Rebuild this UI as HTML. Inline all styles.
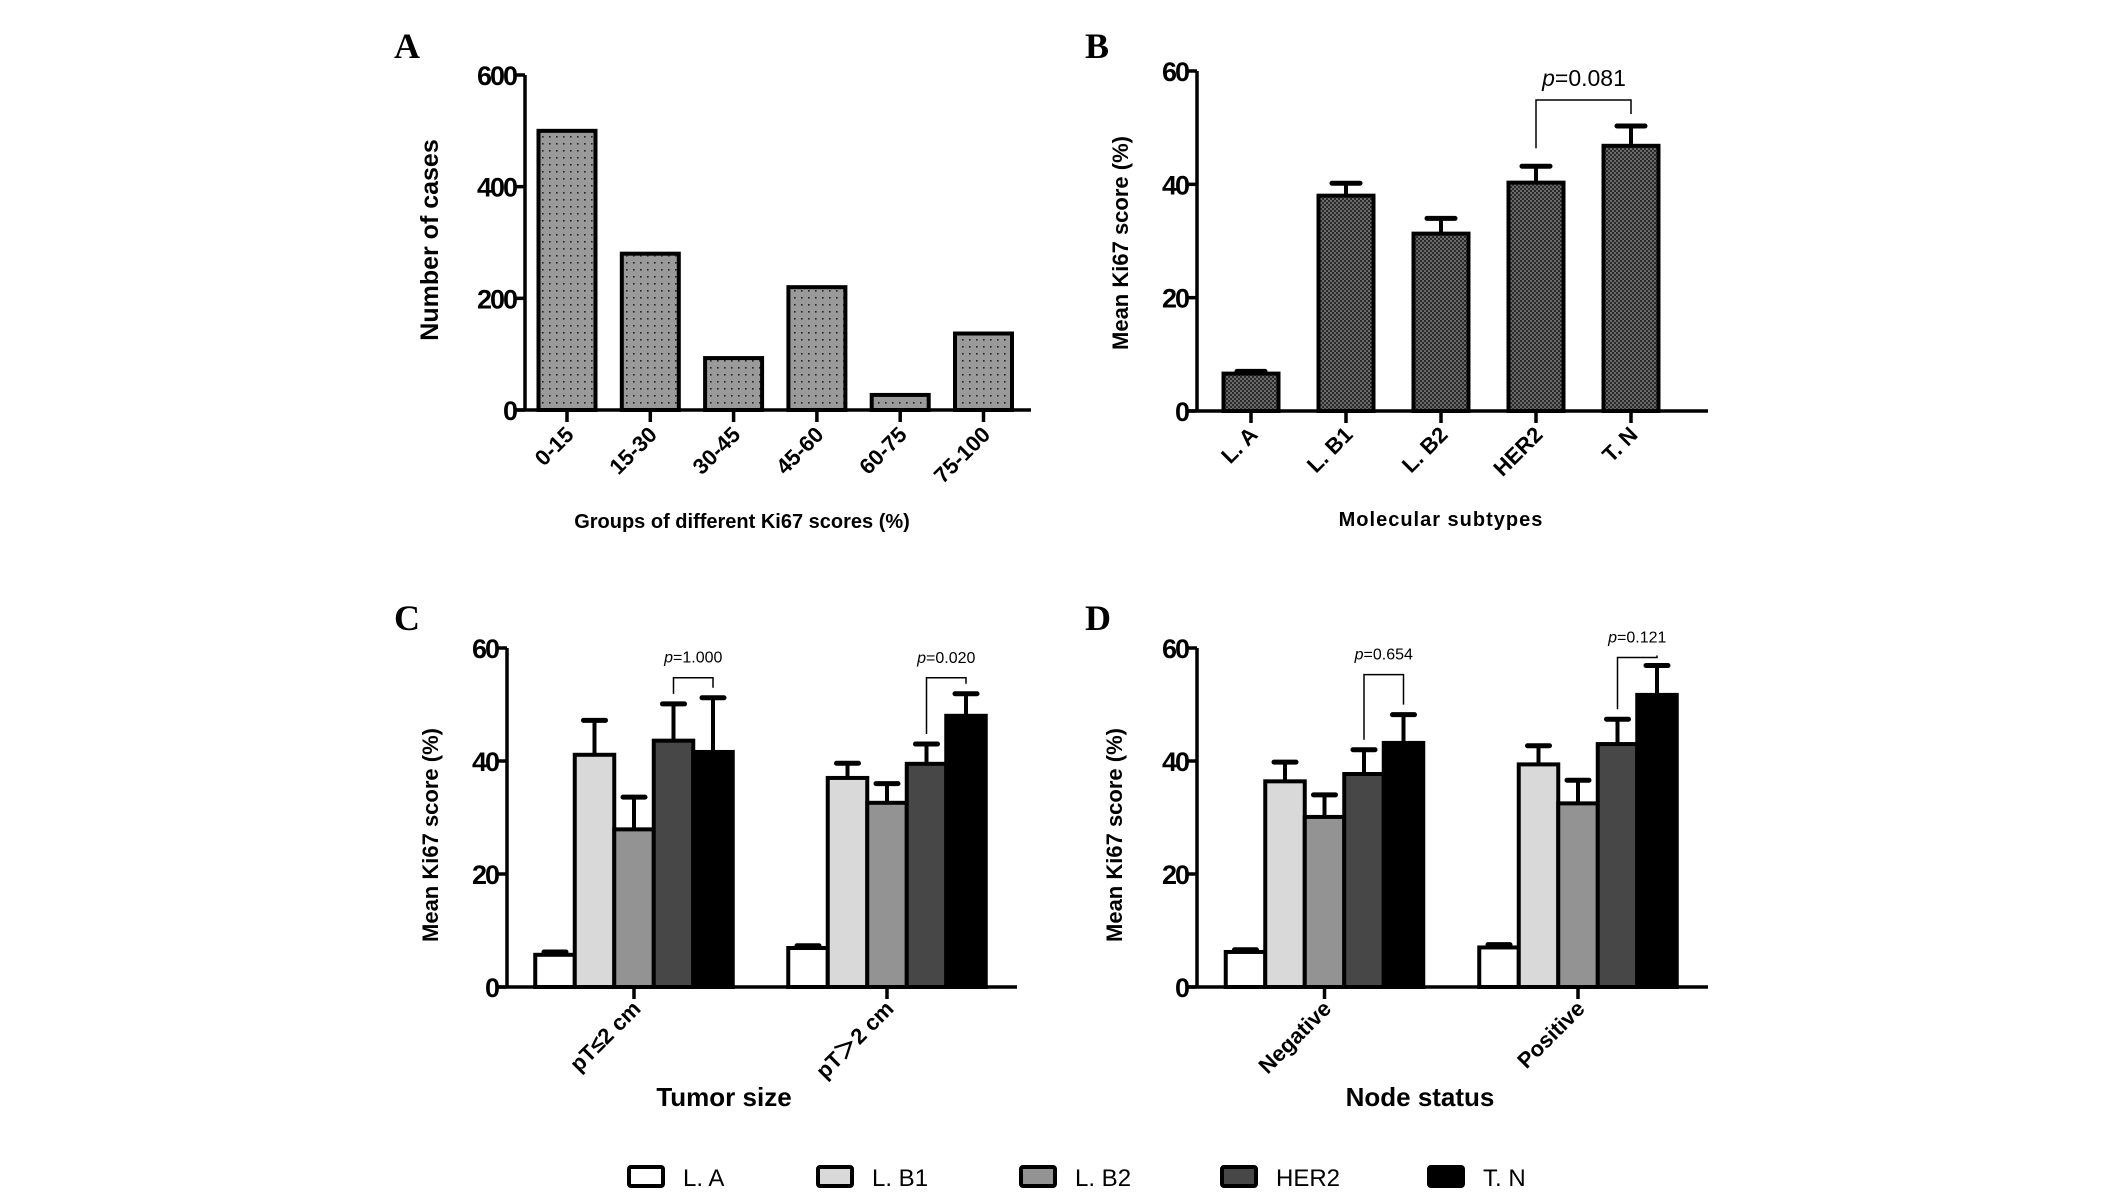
<!DOCTYPE html>
<html><head><meta charset="utf-8"><style>
html,body{margin:0;padding:0;background:#fff;}
svg{display:block;font-family:"Liberation Sans",Arial,sans-serif;}
</style></head><body>
<svg id="fig" width="2126" height="1192" viewBox="0 0 2126 1192" xmlns="http://www.w3.org/2000/svg">
<defs>
<pattern id="dots" width="7" height="7" patternUnits="userSpaceOnUse"><rect width="7" height="7" fill="#9a9a9a"/><rect x="3" y="3" width="1.6" height="1.6" fill="#222"/></pattern>
<pattern id="check" width="4" height="4" patternUnits="userSpaceOnUse"><rect width="4" height="4" fill="#6a6a6a"/><rect width="2" height="2" fill="#2a2a2a"/><rect x="2" y="2" width="2" height="2" fill="#2a2a2a"/></pattern>
</defs>
<g id="root"></g>
</svg>
<script>
// Panel A data
const aCats = ["0-15","15-30","30-45","45-60","60-75","75-100"];
const aVals = [500, 280, 93, 220, 27, 137];
const aTicks = [0,200,400,600];
// Panel B data
const bCats = ["L. A","L. B1","L. B2","HER2","T. N"];
const bVals = [6.6, 38.0, 31.3, 40.3, 46.8];
const bErr = [7.0, 40.2, 34.0, 43.2, 50.3];
const pctTicks = [0,20,40,60];
// Panel C data
const cGroups = ["pT\u22642 cm","pT\uFF1E2 cm"];
const cVals = [[5.7,41.1,27.9,43.6,41.6],[6.9,37.0,32.6,39.5,48.0]];
const cErr = [[6.2,47.2,33.6,50.1,51.2],[7.3,39.6,36.0,43.0,51.9]];
const cP = ["1.000","0.020"];
// Panel D data
const dGroups = ["Negative","Positive"];
const dVals = [[6.2,36.4,30.1,37.7,43.2],[7.0,39.4,32.5,43.0,51.7]];
const dErr = [[6.6,39.8,34.0,42.0,48.2],[7.5,42.7,36.6,47.4,56.9]];
const dP = ["0.654","0.121"];
const series = ["L. A","L. B1","L. B2","HER2","T. N"];
const seriesFill = ["#ffffff","#d9d9d9","#939393","#474747","#000000"];

const NS="http://www.w3.org/2000/svg";
const root=document.getElementById('root');
function mk(tag,attrs,parent){const e=document.createElementNS(NS,tag);for(const k in attrs)e.setAttribute(k,attrs[k]);(parent||root).appendChild(e);return e;}
function txt(s,attrs,parent){const e=mk('text',attrs,parent);e.textContent=s;return e;}

function axes(g,o){
  const ys=v=>o.y0-(v/o.max)*(o.y0-o.yTop);
  const ya=mk('line',{x1:o.x0,y1:o.yTop,x2:o.x0,y2:o.y0,stroke:'#000','stroke-width':3.5},g);
  
  
  const xa=mk('line',{x1:o.xStart,y1:o.y0,x2:o.xEnd,y2:o.y0,stroke:'#000','stroke-width':3.5},g);
  
  
  o.ticks.forEach(t=>{
    const y=ys(t);
    mk('line',{x1:o.x0-11,y1:y,x2:o.x0,y2:y,stroke:'#000','stroke-width':3.5},g);
    const l=txt(String(t),{x:o.x0-9,y:y+10,'text-anchor':'end','font-size':27,'font-weight':'bold','letter-spacing':-2},g);
    
    
  });
  return ys;
}
function letter(s,x,y){const e=txt(s,{x:x,y:y,'font-family':'"Liberation Serif",serif','font-size':36,'font-weight':'bold'});
  
  }
function ytitle(s,x,y,g,fs){const e=txt(s,{x:0,y:0,transform:`translate(${x},${y}) rotate(-90)`,'text-anchor':'middle','font-size':fs||22,'font-weight':'bold'},g);
  
  }
function xlab(s,x,y,g){const e=txt(s,{x:0,y:0,transform:`translate(${x},${y}) rotate(-45)`,'text-anchor':'end','font-size':22,'font-weight':'bold'},g);
  
  }
function errbar(g,x,yTop,yBar,cap){
  mk('line',{x1:x,y1:yBar,x2:x,y2:yTop,stroke:'#000','stroke-width':4},g);
  mk('line',{x1:x-cap/2,y1:yTop,x2:x+cap/2,y2:yTop,stroke:'#000','stroke-width':5,'stroke-linecap':'round'},g);
}
function bracket(g,x1,y1,x2,y2,top,p,px,py,fs){
  mk('polyline',{points:`${x1},${y1} ${x1},${top} ${x2},${top} ${x2},${y2}`,fill:'none',stroke:'#000','stroke-width':1.5},g);
  const t=mk('text',{x:px,y:py,'text-anchor':'middle','font-size':fs},g);
  
  
  const i=document.createElementNS(NS,'tspan');i.setAttribute('font-style','italic');i.textContent='p';t.appendChild(i);
  t.appendChild(document.createTextNode('='+p));
}

// ---- Panel A
(function(){
  const g=mk('g',{});
  
  
  letter('A',394,58);
  const x0=525, xEnd=1031, step=83.3, first=567, bw=57;
  const ys=axes(g,{x0:x0,xEnd:xEnd,xStart:514,y0:410,yTop:75,max:600,ticks:aTicks});
  aCats.forEach((c,i)=>{
    const cx=first+i*step, y=ys(aVals[i]);
    const r=mk('rect',{x:cx-bw/2,y:y,width:bw,height:410-y,fill:'url(#dots)',stroke:'#000','stroke-width':4},g);
    
    
    mk('line',{x1:cx,y1:410,x2:cx,y2:422,stroke:'#000','stroke-width':3.5},g);
    xlab(c,cx+8,436,g);
  });
  ytitle('Number of cases',438,240,g,25);
  const t=txt('Groups of different Ki67 scores (%)',{x:742,y:528,'text-anchor':'middle','font-size':20,'font-weight':'bold'},g);
  
  
})();

// ---- Panel B
(function(){
  const g=mk('g',{});
  
  
  letter('B',1085,58);
  const first=1251, step=95, bw=55, y0=411;
  const ys=axes(g,{x0:1197,xEnd:1708,xStart:1187,y0:y0,yTop:71,max:60,ticks:pctTicks});
  bCats.forEach((c,i)=>{
    const cx=first+i*step, y=ys(bVals[i]);
    errbar(g,cx,ys(bErr[i]),y,28);
    const r=mk('rect',{x:cx-bw/2,y:y,width:bw,height:y0-y,fill:'url(#check)',stroke:'#000','stroke-width':4},g);
    
    
    mk('line',{x1:cx,y1:y0,x2:cx,y2:y0+12,stroke:'#000','stroke-width':3.5},g);
    xlab(c,cx+8,436,g);
  });
  const xh=first+3*step, xt=first+4*step;
  bracket(g,xh,ys(bErr[3])-18,xt,ys(bErr[4])-12,100,'0.081',1584,86,23);
  ytitle('Mean Ki67 score (%)',1128,243,g,22);
  const t=txt('Molecular subtypes',{x:1441,y:526,'text-anchor':'middle','font-size':20,'font-weight':'bold','letter-spacing':1},g);
  
  
})();

// ---- Grouped panels
function grouped(name,opts){
  const g=mk('g',{});
  
  
  const y0=987, bw=39.5;
  const ys=axes(g,{x0:opts.x0,xEnd:opts.xEnd,xStart:opts.x0-9,y0:y0,yTop:648,max:60,ticks:pctTicks});
  opts.groups.forEach((gn,gi)=>{
    const gc=opts.centers[gi];
    const start=gc-2.5*bw;
    opts.vals[gi].forEach((v,si)=>{
      const cx=start+(si+0.5)*bw, y=ys(v);
      errbar(g,cx,ys(opts.err[gi][si]),y,22);
    });
    opts.vals[gi].forEach((v,si)=>{
      const cx=start+(si+0.5)*bw, y=ys(v);
      const r=mk('rect',{x:cx-bw/2,y:y,width:bw,height:y0-y,fill:seriesFill[si],stroke:'#000','stroke-width':4},g);
      
      
    });
    mk('line',{x1:gc,y1:y0,x2:gc,y2:y0+12,stroke:'#000','stroke-width':3.5},g);
    xlab(gn,gc+8,1010,g);
    const xh=start+3.5*bw, xt=start+4.5*bw;
    const bTop=Math.min(ys(opts.err[gi][3]),ys(opts.err[gi][4]))-opts.gap[gi];
    bracket(g,xh,ys(opts.err[gi][3])-10,xt,ys(opts.err[gi][4])-10,bTop,opts.p[gi],(xh+xt)/2,bTop-15,16);
  });
  ytitle('Mean Ki67 score (%)',opts.yt,835,g,22);
  const t=txt(opts.title,{x:opts.tx,y:1106,'text-anchor':'middle','font-size':26,'font-weight':'bold'},g);
  
  
}
letter('C',394,630);
grouped('panel-c-chart',{x0:507,xEnd:1017,groups:cGroups,centers:[634,887],vals:cVals,err:cErr,p:cP,gap:[20,16],yt:438,title:'Tumor size',tx:724});
letter('D',1085,630);
grouped('panel-d-chart',{x0:1197,xEnd:1708,groups:dGroups,centers:[1324.5,1578],vals:dVals,err:dErr,p:dP,gap:[40,8],yt:1122,title:'Node status',tx:1420});

// ---- Legend
(function(){
  const g=mk('g',{});
  
  
  const bx=[629,818,1021,1222,1429];
  series.forEach((s,i)=>{
    const e=mk('g',{},g);
    
    
    mk('rect',{x:bx[i],y:1167,width:34,height:19,rx:2,fill:seriesFill[i],stroke:'#000','stroke-width':4},e);
    txt(s,{x:bx[i]+54,y:1186,'font-size':24},e);
  });
})();
</script>
</body></html>
